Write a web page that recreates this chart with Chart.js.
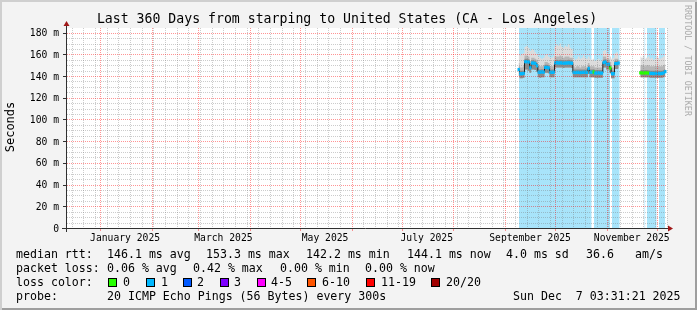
<!DOCTYPE html>
<html>
<head>
<meta charset="utf-8">
<script src="https://cdn.jsdelivr.net/npm/chart.js@4.4.1/dist/chart.umd.min.js"></script>
<style>
  html, body { margin: 0; padding: 0; background: #fff; }
  #wrap { position: relative; width: 697px; height: 310px; background: #f3f3f3;
          box-shadow: inset 2px 2px 0 #cfcfcf, inset -2px -2px 0 #9e9e9e; overflow: hidden; }
  canvas { position: absolute; left: 0; top: 0; }
  .t { position: absolute; font-family: "DejaVu Sans Mono", monospace; white-space: pre; color: #000; }
  .leg { font-size: 11.6px; line-height: 14px; }
  .sw { position: absolute; width: 7px; height: 7px; border: 1px solid #000; }
</style>
</head>
<body>
<div id="wrap">
  <canvas id="rrd" width="697" height="310"></canvas>
  <div class="t" style="left:0;width:694px;top:11px;font-size:13.2px;line-height:16px;text-align:center;">Last 360 Days from starping to United States (CA - Los Angeles)</div>
  <div class="t" style="left:-20px;top:120px;width:60px;font-size:12px;line-height:14px;text-align:center;transform:rotate(-90deg);">Seconds</div>
  <div class="t" style="left:633px;top:55px;width:110px;font-size:8.4px;line-height:10px;text-align:center;color:#aaa;transform:rotate(90deg);">RRDTOOL / TOBI OETIKER</div>

  <div class="t leg" style="left:16px;top:247px;">median rtt:</div>
  <div class="t leg" style="left:107px;top:247px;">146.1 ms avg</div>
  <div class="t leg" style="left:206px;top:247px;">153.3 ms max</div>
  <div class="t leg" style="left:306px;top:247px;">142.2 ms min</div>
  <div class="t leg" style="left:407px;top:247px;">144.1 ms now</div>
  <div class="t leg" style="left:506px;top:247px;">4.0 ms sd</div>
  <div class="t leg" style="left:586px;top:247px;">36.6</div>
  <div class="t leg" style="left:635px;top:247px;">am/s</div>

  <div class="t leg" style="left:16px;top:261px;">packet loss:</div>
  <div class="t leg" style="left:107px;top:261px;">0.06 % avg</div>
  <div class="t leg" style="left:193px;top:261px;">0.42 % max</div>
  <div class="t leg" style="left:280px;top:261px;">0.00 % min</div>
  <div class="t leg" style="left:365px;top:261px;">0.00 % now</div>

  <div class="t leg" style="left:16px;top:275px;">loss color:</div>
  <div id="lossLegend"></div>

  <div class="t leg" style="left:16px;top:289px;">probe:</div>
  <div class="t leg" style="left:107px;top:289px;">20 ICMP Echo Pings (56 Bytes) every 300s</div>
  <div class="t leg" style="left:513px;top:289px;">Sun Dec  7 03:31:21 2025</div>
</div>
<script>
// days counted from the graph start (Dec 12 2024 03:31:21), one value per day
const days = [271, 272, 273, 274, 275, 276, 277, 278, 279, 280, 281, 282, 283, 284, 285, 286, 287, 288, 289, 290,
  291, 292, 293, 294, 295, 296, 297, 298, 299, 300, 301, 302, 303, 304, 305, 306, 307, 308, 309, 310,
  311, 312, 313, 314, 315, 316, 317, 318, 319, 320, 321, 322, 323, 324, 325, 326, 327, 328, 329, 330, 331,
  337,
  344, 345, 346, 347, 348, 349, 350, 351, 352, 353, 354, 355, 356, 357, 358, 359];

const medianRtt = [146, 142.2, 142.2, 142.5, 153.3, 153.3, 153, 147.6, 152, 152, 151.5, 149.5, 143.6, 143.6, 143.8, 143.6, 148, 148, 147.5, 143.6,
  143.4, 143.6, 152, 152.3, 152, 152.2, 152, 151.8, 152, 152, 152.2, 152, 151.8, 143.4, 143.2, 143.4, 143.4, 143.2, 143.4, 143.4,
  143.6, 143.4, 147, 143.4, 143.6, 143.8, 142.8, 142.8, 143, 142.8, 142.8, 152.5, 153, 151, 151, 147.4, 142.2, 142.2, 151.5, 151.5, 152,
  null,
  143, 143, 142.8, 143, 143, 142.8, 142.5, 142.5, 142.3, 142.5, 142.3, 142.5, 142.3, 142.5, 143, 144.1];

const smokeTop = [160, 159, 160, 161, 167, 168, 166, 163, 165, 164, 162, 160, 158, 157, 156, 157, 159, 160, 158, 157,
  157, 158, 167, 169, 168, 170, 167, 166, 168, 167, 169, 166, 165, 157, 155, 156, 158, 156, 157, 159,
  157, 156, 158, 156, 155, 156, 154, 155, 156, 154, 155, 163, 164, 161, 160, 158, 156, 157, 161, 162, 160,
  null,
  158, 157, 159, 156, 157, 158, 156, 157, 155, 156, 158, 157, 156, 157, 158, 159];

const smokeUpper = [152, 148, 148, 149, 159, 159, 158, 154, 157, 157, 156, 155, 150, 149, 149, 150, 153, 153, 152, 149,
  149, 149, 158, 158, 158, 159, 158, 157, 158, 158, 158, 157, 157, 149, 148, 149, 149, 148, 149, 149,
  149, 148, 152, 149, 149, 149, 148, 148, 148, 148, 148, 158, 158, 156, 156, 153, 148, 148, 156, 156, 156,
  null,
  150, 150, 150, 149, 150, 150, 149, 149, 149, 149, 149, 149, 149, 149, 150, 151];

const smokeDark = [149, 145, 145, 145, 156, 156, 155.5, 150, 154.5, 154.5, 154, 152, 146, 146, 146.3, 146, 150.5, 150.5, 150, 146,
  146, 146, 154.5, 155, 154.5, 155, 154.5, 154.5, 154.5, 154.5, 155, 154.5, 154.5, 146, 146, 146, 146, 146, 146, 146,
  146, 146, 149.5, 146, 146, 146.3, 145.5, 145.5, 145.5, 145.5, 145.5, 155, 155.5, 153.5, 153.5, 150, 145, 145, 154, 154, 154.5,
  null,
  145.5, 145.5, 145.3, 145.5, 145.5, 145.3, 145, 145, 144.8, 145, 144.8, 145, 144.8, 145, 145.5, 146.5];

const smokeLow = [140, 138, 138, 138.5, 146, 146, 145, 143, 146, 146, 145.5, 144, 139, 138.5, 139, 139, 143, 143, 142.5, 139,
  139, 139, 148, 148, 148, 148, 148, 147.5, 148, 148, 148, 148, 147.5, 139, 139, 139, 139, 139, 139, 139,
  139, 139, 142, 139, 139, 139, 138.5, 138.5, 138.5, 138.5, 138.5, 148, 148, 146, 146, 143, 138, 138, 146.5, 146.5, 147,
  null,
  139, 139, 139, 139, 139, 139, 138.5, 138.5, 138.5, 138.5, 138.5, 138.5, 138.5, 138.5, 139, 140];

// lost pings (of 20) per day, picks the median colour
const lossCount = [1, 1, 1, 1, 1, 1, 1, 1, 1, 1, 1, 1, 1, 1, 1, 1, 1, 1, 1, 1,
  1, 1, 1, 1, 1, 1, 1, 1, 1, 1, 1, 1, 1, 1, 1, 1, 1, 1, 1, 1,
  1, 1, 1, 1, 1, 0, 1, 1, 1, 1, 1, 1, 1, 1, 1, 0, 1, 1, 1, 1, 1,
  null,
  0, 0, 0, 0, 0, 0, 1, 1, 1, 1, 1, 1, 1, 1, 1, 1];

// periods drawn with the loss background
const lossBgStart = [271.2, 316.2, 327.0, 346.4, 348.0, 355.2];
const lossBgEnd   = [314.8, 325.8, 331.6, 347.0, 353.8, 358.8];

const monthLabels = ['January 2025', 'March 2025', 'May 2025', 'July 2025', 'September 2025', 'November 2025'];
const monthLabelIdx = [0, 2, 4, 6, 8, 10];
const yLabels = [0, 20, 40, 60, 80, 100, 120, 140, 160, 180];

const lossNames = ['0', '1', '2', '3', '4-5', '6-10', '11-19', '20/20'];
const lossColors = ['#26ff00', '#00b8ff', '#0059ff', '#7e00ff', '#ff00ff', '#ff5500', '#ff0000', '#a10000'];
const lossSwatchX = [108, 146, 183, 220, 257, 307, 366, 431];
const lossLabelX = [123, 161, 197, 234, 271, 322, 381, 446];

const Y_MAX = 184.3;
const X_MAX = 360;
const DAY = 86400000;
const start = Date.UTC(2024, 11, 12, 3, 31, 21);
const toDay = t => (t - start) / DAY;

// loss colour legend
const ll = document.getElementById('lossLegend');
lossNames.forEach((n, i) => {
  const s = document.createElement('div');
  s.className = 'sw';
  s.style.left = lossSwatchX[i] + 'px';
  s.style.top = '278px';
  s.style.background = lossColors[i];
  ll.appendChild(s);
  const l = document.createElement('div');
  l.className = 't leg';
  l.style.left = lossLabelX[i] + 'px';
  l.style.top = '275px';
  l.textContent = n;
  ll.appendChild(l);
});

// grid: sundays (minor) and month starts (major); labels sit mid-month
const monthStarts = [];
for (let m = 0; m < 12; m++) monthStarts.push(toDay(Date.UTC(2025, m, 1)));
const weekLines = [];
for (let t = Date.UTC(2024, 11, 15); toDay(t) < X_MAX; t += 7 * DAY) {
  const d = toDay(t);
  if (!monthStarts.some(ms => Math.abs(ms - d) < 0.5)) weekLines.push(d);
}
const labelTicks = [{value: 0, text: ''}]
  .concat(monthLabelIdx.map((m, i) => ({value: toDay(Date.UTC(2025, m, 1) + 15 * DAY), text: monthLabels[i]})))
  .concat([{value: X_MAX, text: ''}]);
const yMinor = [];
for (let v = 5; v <= 180; v += 5) if (v % 20 !== 0) yMinor.push(v);

const pts = arr => days.map((d, i) => ({x: d, y: arr[i]}));

const lossBg = [];
lossBgStart.forEach((s, i) => {
  lossBg.push({x: s, y: Y_MAX}, {x: lossBgEnd[i], y: Y_MAX}, {x: lossBgEnd[i], y: null});
});

const medianBars = [];
const medianBarColors = [];
days.forEach((d, i) => {
  if (medianRtt[i] == null) return;
  medianBars.push({x: d, y: [medianRtt[i] - 1.2, medianRtt[i] + 1.2]});
  medianBarColors.push(lossColors[lossCount[i]]);
});

const MINOR = 'rgba(120,120,120,0.38)';
const MAJOR = 'rgba(255,0,0,0.42)';

const rrdFrame = {
  id: 'rrdFrame',
  beforeDraw(chart) {
    const {ctx, chartArea: a} = chart;
    ctx.save();
    ctx.fillStyle = '#ffffff';
    ctx.fillRect(a.left, a.top, a.right - a.left, a.bottom - a.top);
    ctx.restore();
  },
  afterDatasetsDraw(chart) {
    const {ctx, chartArea: a, scales: {x, y}} = chart;
    const dotsH = py => { for (let px = a.left; px < a.right; px += 2) ctx.fillRect(px, py, 1, 1); };
    const dotsV = px => { for (let py = a.bottom - 2; py >= a.top; py -= 2) ctx.fillRect(px, py, 1, 1); };
    ctx.save();
    ctx.fillStyle = MINOR;
    yMinor.forEach(v => dotsH(Math.round(y.getPixelForValue(v))));
    weekLines.forEach(d => dotsV(Math.round(x.getPixelForValue(d))));
    ctx.fillStyle = MAJOR;
    yLabels.forEach(v => { if (v > 0) dotsH(Math.round(y.getPixelForValue(v))); });
    monthStarts.forEach(d => dotsV(Math.round(x.getPixelForValue(d))));
    // small tick marks outside the plot
    monthStarts.forEach(d => ctx.fillRect(Math.round(x.getPixelForValue(d)), a.bottom + 1, 1, 2));
    ctx.fillStyle = '#303030';
    yLabels.forEach(v => ctx.fillRect(a.left - 4, Math.round(y.getPixelForValue(v)), 3, 1));
    ctx.restore();
  },
  afterDraw(chart) {
    const {ctx, chartArea: a} = chart;
    ctx.save();
    ctx.strokeStyle = '#303030';
    ctx.lineWidth = 1;
    ctx.beginPath();
    ctx.moveTo(a.left - 0.5, a.bottom + 4);
    ctx.lineTo(a.left - 0.5, a.top - 3);
    ctx.moveTo(a.left - 5, a.bottom + 0.5);
    ctx.lineTo(a.right + 2, a.bottom + 0.5);
    ctx.stroke();
    ctx.fillStyle = '#a01818';
    ctx.beginPath();
    ctx.moveTo(a.left - 0.5, a.top - 7);
    ctx.lineTo(a.left - 3.5, a.top - 2);
    ctx.lineTo(a.left + 2.5, a.top - 2);
    ctx.closePath();
    ctx.fill();
    ctx.beginPath();
    ctx.moveTo(a.right + 6, a.bottom + 0.5);
    ctx.lineTo(a.right + 1, a.bottom - 2.5);
    ctx.lineTo(a.right + 1, a.bottom + 3.5);
    ctx.closePath();
    ctx.fill();
    ctx.restore();
  }
};

const tickFont = {family: 'DejaVu Sans Mono', size: 9.7};
const noLine = 'rgba(0,0,0,0)';

new Chart(document.getElementById('rrd').getContext('2d'), {
  type: 'line',
  data: {
    datasets: [
      {type: 'bar', data: medianBars, backgroundColor: medianBarColors, borderWidth: 0,
       barPercentage: 1, categoryPercentage: 1, grouped: false, order: 0},
      {data: pts(medianRtt), borderColor: '#202020', borderWidth: 1, pointRadius: 0,
       stepped: 'middle', fill: false, order: 1},
      {data: pts(smokeLow), borderWidth: 0, pointRadius: 0, stepped: 'middle', fill: false, order: 2},
      {data: pts(smokeDark), borderWidth: 0, pointRadius: 0, stepped: 'middle',
       fill: {target: 2}, backgroundColor: '#8c8c8c', order: 3},
      {data: pts(smokeUpper), borderWidth: 0, pointRadius: 0, stepped: 'middle',
       fill: {target: 2}, backgroundColor: '#b6b6b6', order: 4},
      {data: pts(smokeTop), borderWidth: 0, pointRadius: 0, stepped: 'middle',
       fill: {target: 2}, backgroundColor: '#dcdcdc', order: 5},
      {data: lossBg, borderWidth: 0, pointRadius: 0, fill: 'origin',
       backgroundColor: '#a8e4fa', order: 6}
    ]
  },
  options: {
    responsive: false,
    animation: false,
    layout: {padding: {top: 28, right: 30, left: 0, bottom: 0}},
    plugins: {legend: {display: false}, tooltip: {enabled: false}},
    scales: {
      x: {
        type: 'linear', min: 0, max: X_MAX, offset: false,
        afterFit: s => { s.height = 82; },
        afterBuildTicks: s => { s.ticks = labelTicks.map(t => ({...t})); },
        border: {display: false},
        grid: {offset: false, color: noLine, tickColor: noLine, tickLength: 3},
        ticks: {
          autoSkip: false, maxRotation: 0, padding: 2, color: '#000', font: tickFont,
          callback: (v, i, ticks) => ticks[i].text || ''
        }
      },
      y: {
        min: 0, max: Y_MAX,
        afterFit: s => { s.width = 67; },
        afterBuildTicks: s => { s.ticks = yLabels.map(v => ({value: v})); },
        border: {display: false},
        grid: {color: noLine, tickColor: noLine, tickLength: 4},
        ticks: {
          autoSkip: false, padding: 4, labelOffset: 1, color: '#000', font: tickFont,
          callback: v => v === 0 ? '0' : v + ' m'
        }
      }
    }
  },
  plugins: [rrdFrame]
});
</script>
</body>
</html>
